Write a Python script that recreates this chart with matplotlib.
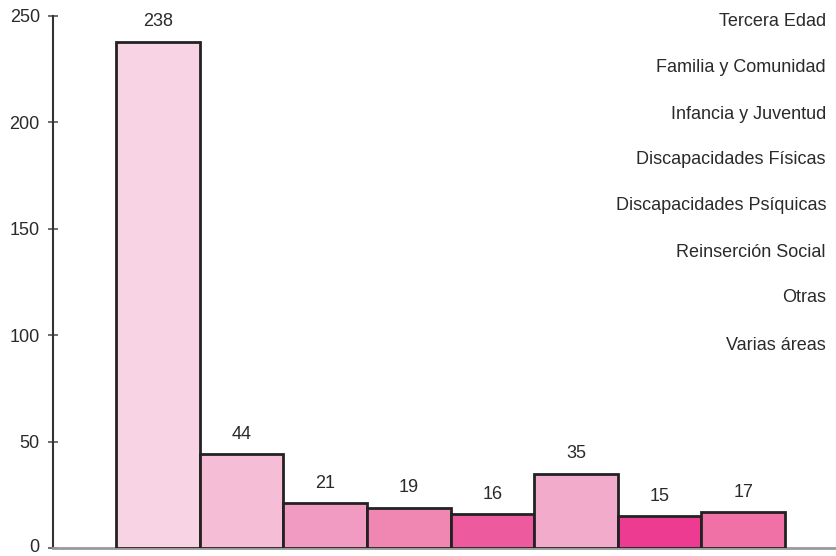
import matplotlib
matplotlib.use("Agg")
import matplotlib.pyplot as plt
from matplotlib.transforms import ScaledTranslation

categories = ["Tercera Edad", "Familia y Comunidad", "Infancia y Juventud",
              "Discapacidades Físicas", "Discapacidades Psíquicas",
              "Reinserción Social", "Otras", "Varias áreas"]
values = [238, 44, 21, 19, 16, 35, 15, 17]
colors = ["#F8D3E4", "#F5BDD6", "#F29BC2", "#F087B2", "#EE5A9E",
          "#F3ABCB", "#EC3B91", "#F071A6"]
yticks = [0, 50, 100, 150, 200, 250]

plt.rcParams['font.family'] = ['Liberation Sans', 'DejaVu Sans']

fig = plt.figure(figsize=(8.36, 5.56), dpi=100)
ax = fig.add_axes([53/836, 8/556, (836-53)/836, (548-16)/556])

x = list(range(len(values)))
bars = ax.bar(x, values, width=1.0, color=colors, edgecolor="#222222",
              linewidth=2.0, zorder=3)
for xi, v in zip(x, values):
    ax.annotate(str(v), (xi, v), xytext=(0, 8), textcoords="offset points",
                ha="center", va="bottom", fontsize=13, color="#2a2a2a")

ax.set_xlim(-1.254, 8.11)
ax.set_ylim(0, 250)
ax.set_yticks(yticks)
ax.set_xticks([])
ax.tick_params(axis="y", direction="inout", length=7, width=1.2,
               color="#555555", labelsize=13, labelcolor="#2a2a2a", pad=6)
for s in ["top", "right"]:
    ax.spines[s].set_visible(False)
ax.spines["left"].set_color("#333333")
ax.spines["left"].set_linewidth(1.5)
ax.spines["bottom"].set_color("#999999")
ax.spines["bottom"].set_linewidth(2.0)

fig.canvas.draw()
lbl0 = ax.get_yticklabels()[0]
lbl0.set_transform(lbl0.get_transform() + ScaledTranslation(0, 2/72, fig.dpi_scale_trans))

ypos = [22, 68, 114, 160, 206, 252, 298, 345]
for lab, yp in zip(categories, ypos):
    fig.text(826/836, 1 - yp/556, lab, ha="right", va="center",
             fontsize=13, color="#2a2a2a")

fig.savefig("out.png", dpi=100)
